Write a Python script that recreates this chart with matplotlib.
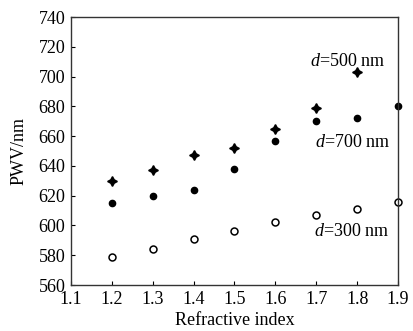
import matplotlib
matplotlib.use('Agg')
import matplotlib.pyplot as plt

plt.rcParams['font.family'] = ['Liberation Serif', 'DejaVu Serif']
plt.rcParams['mathtext.fontset'] = 'custom'
plt.rcParams['mathtext.it'] = 'Liberation Serif:italic'
plt.rcParams['mathtext.rm'] = 'Liberation Serif'

# ── data ─────────────────────────────────────────────────────────────────────
n_index = [1.2, 1.3, 1.4, 1.5, 1.6, 1.7, 1.8, 1.9]
pwv_500 = [630, 637, 647, 652, 665, 679, 703]          # no point at 1.9
pwv_700 = [615, 620, 624, 638, 657, 670, 672, 680]
pwv_300 = [579, 584, 591, 596, 602, 607, 611, 616]

FS = 13

fig = plt.figure(figsize=(4.14, 3.31), dpi=100)
ax = fig.add_axes([71/414, 1 - 285/331, (398 - 71)/414, (285 - 17)/331])

ax.plot(n_index[:len(pwv_500)], pwv_500, ls='none', marker=(4, 1, 0),
        ms=7, color='black', clip_on=False)
ax.plot(n_index, pwv_700, ls='none', marker='o', ms=4.5, color='black',
        clip_on=False)
ax.plot(n_index, pwv_300, ls='none', marker='o', ms=5, mfc='white',
        mec='black', mew=1.1, clip_on=False)

ax.text(1.778, 710, r'$d$=500 nm', ha='center', va='center', fontsize=FS)
ax.text(1.79, 656, r'$d$=700 nm', ha='center', va='center', fontsize=FS)
ax.text(1.787, 596, r'$d$=300 nm', ha='center', va='center', fontsize=FS)

ax.set_xlim(1.1, 1.9)
ax.set_ylim(560, 740)
ax.set_xticks([1.1, 1.2, 1.3, 1.4, 1.5, 1.6, 1.7, 1.8, 1.9])
ax.set_yticks(range(560, 741, 20))
ax.tick_params(direction='in', length=3, width=0.8, labelsize=FS, pad=4)
for s in ax.spines.values():
    s.set_linewidth(1.0)
    s.set_color('#333333')

ax.set_xlabel('Refractive index', fontsize=FS, labelpad=3)
ax.set_ylabel('PWV/nm', fontsize=FS, labelpad=8)

fig.savefig('out.png', dpi=100)
